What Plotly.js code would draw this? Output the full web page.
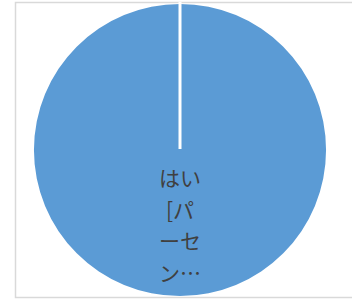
<!DOCTYPE html>
<html><head><meta charset="utf-8">
<script src="https://cdn.plot.ly/plotly-3.0.1.min.js"></script>
<style>html,body{margin:0;padding:0;background:#fff}</style>
</head><body><div id="chart" style="width:352px;height:302px"></div>
<script>
const categories = ["はい"];
const values = [100];
const labelLines = ["はい", "[パ", "ーセ", "ン…"];

const W = 352, H = 302;
const px = (x) => x / W, py = (y) => 1 - y / H;
const pieCx = 180, pieCy = 150, pieTop = 4, pieBot = 296;

const annotations = labelLines.map((t, i) => ({
  text: t, showarrow: false, xref: 'paper', yref: 'paper',
  x: px(pieCx), y: py(177 + i * 31.5), xanchor: 'center', yanchor: 'middle',
  font: {family: '"Noto Sans CJK JP", sans-serif', size: 21, color: '#404040'}
}));

Plotly.newPlot('chart', [{
  type: 'pie', labels: categories, values: values,
  marker: {colors: ['#5B9BD5'], line: {width: 0}},
  textinfo: 'none', hoverinfo: 'none', sort: false,
  direction: 'clockwise', rotation: 0,
  domain: {x: [px(pieCx - 146), px(pieCx + 146)], y: [py(pieBot), py(pieTop)]}
}], {
  width: W, height: H, margin: {l: 0, r: 0, t: 0, b: 0},
  paper_bgcolor: '#fff', showlegend: false,
  annotations: annotations,
  shapes: [
    {type: 'rect', xref: 'paper', yref: 'paper', x0: px(15.5), x1: px(370), y0: py(297.5), y1: py(2.5),
     line: {color: '#D9D9D9', width: 1.5}, fillcolor: 'rgba(0,0,0,0)'},
    {type: 'line', xref: 'paper', yref: 'paper', x0: px(pieCx), x1: px(pieCx), y0: py(pieCy - 1), y1: py(pieTop - 2),
     line: {color: '#FFFFFF', width: 3}}
  ]
}, {staticPlot: true, displayModeBar: false});
</script></body></html>
